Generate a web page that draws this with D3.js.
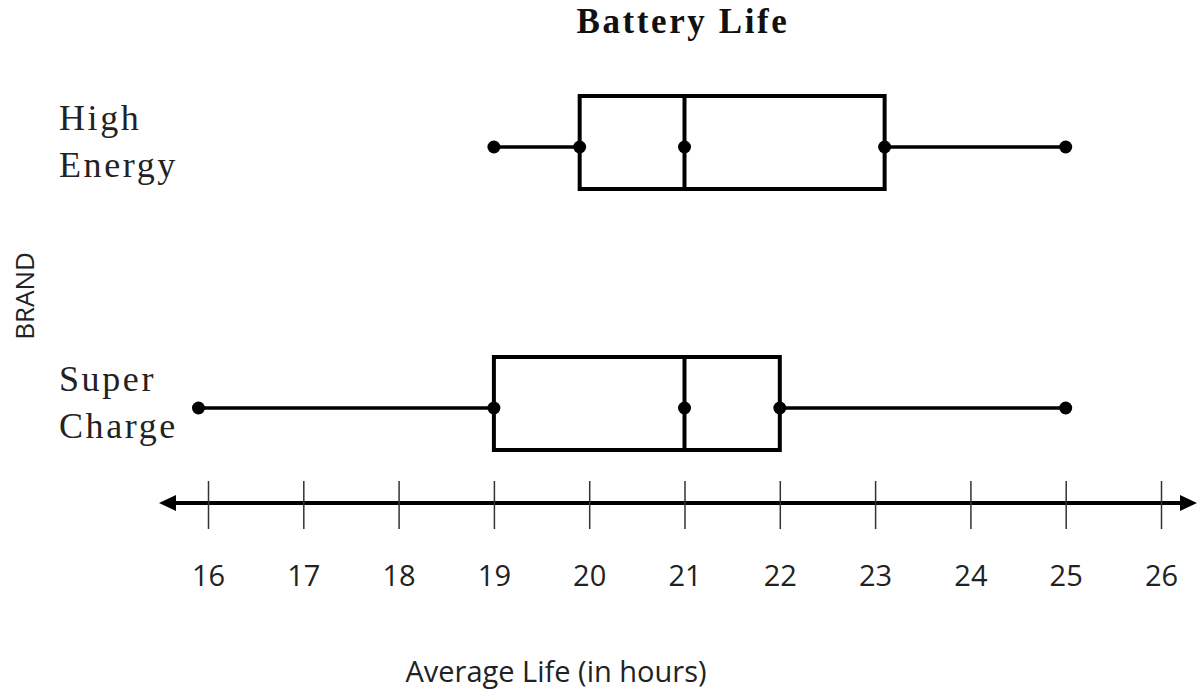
<!DOCTYPE html>
<html>
<head>
<meta charset="utf-8">
<script src="https://cdn.jsdelivr.net/npm/d3@7"></script>
<style>
  html, body { margin: 0; padding: 0; background: #fff; }
  svg { display: block; }
</style>
</head>
<body>
<svg id="chart" width="1197" height="690"></svg>
<script>
// ---- data ----
const categories = ["High Energy", "Super Charge"];
const labelLines = [["High", "Energy"], ["Super", "Charge"]];
const minValues    = [19,   15.9];
const q1Values     = [19.9, 19];
const medianValues = [21,   21];
const q3Values     = [23.1, 22];
const maxValues    = [25,   25];
const tickValues   = [16, 17, 18, 19, 20, 21, 22, 23, 24, 25, 26];
const titleText  = "Battery Life";
const xTitleText = "Average Life (in hours)";
const yTitleText = "BRAND";

// ---- layout ----
const W = 1197, H = 690;
const svg = d3.select("#chart");
const x = d3.scaleLinear().domain([16, 26]).range([208, 1161]);
const y = d3.scalePoint().domain(categories).range([147, 408]);
const boxTop = 51, boxBottom = 42;
const axisY = 503;
const ink = "#000";

const rows = categories.map((c, i) => ({
  cat: c, lines: labelLines[i],
  min: minValues[i], q1: q1Values[i], med: medianValues[i], q3: q3Values[i], max: maxValues[i]
}));

// title
svg.append("text")
  .attr("x", 683).attr("y", 33)
  .attr("text-anchor", "middle")
  .style("font-family", "'Liberation Serif', 'Times New Roman', serif")
  .style("font-weight", "bold")
  .style("font-size", "35px")
  .style("letter-spacing", "2.6px")
  .attr("fill", "#111")
  .text(titleText);

// y title
svg.append("text")
  .attr("transform", "translate(34,296) rotate(-90)")
  .attr("text-anchor", "middle")
  .style("font-family", "'Open Sans', sans-serif")
  .style("font-size", "26px")
  .attr("fill", "#222")
  .text(yTitleText);

// category labels
const lab = svg.append("g");
rows.forEach(r => {
  r.lines.forEach((t, j) => {
    lab.append("text")
      .attr("x", 59)
      .attr("y", y(r.cat) - 17 + j * 47)
      .style("font-family", "'Liberation Serif', 'Times New Roman', serif")
      .style("font-size", "36px")
      .style("letter-spacing", "2.6px")
      .attr("fill", "#222")
      .text(t);
  });
});

// boxes
const g = svg.append("g");
const box = g.selectAll("g.box").data(rows).join("g").attr("class", "box");

box.append("line")
  .attr("x1", d => x(d.min)).attr("x2", d => x(d.q1))
  .attr("y1", d => y(d.cat)).attr("y2", d => y(d.cat))
  .attr("stroke", ink).attr("stroke-width", 3.5);
box.append("line")
  .attr("x1", d => x(d.q3)).attr("x2", d => x(d.max))
  .attr("y1", d => y(d.cat)).attr("y2", d => y(d.cat))
  .attr("stroke", ink).attr("stroke-width", 3.5);
box.append("rect")
  .attr("x", d => x(d.q1)).attr("width", d => x(d.q3) - x(d.q1))
  .attr("y", d => y(d.cat) - boxTop).attr("height", boxTop + boxBottom)
  .attr("fill", "none").attr("stroke", ink).attr("stroke-width", 4);
box.append("line")
  .attr("x1", d => x(d.med)).attr("x2", d => x(d.med))
  .attr("y1", d => y(d.cat) - boxTop).attr("y2", d => y(d.cat) + boxBottom)
  .attr("stroke", ink).attr("stroke-width", 4);
box.selectAll("circle")
  .data(d => [d.min, d.q1, d.med, d.q3, d.max].map(v => ({v, cat: d.cat})))
  .join("circle")
  .attr("cx", d => x(d.v)).attr("cy", d => y(d.cat))
  .attr("r", 6.5).attr("fill", ink);

// axis line with arrows
svg.append("line")
  .attr("x1", 170).attr("x2", 1186)
  .attr("y1", axisY).attr("y2", axisY)
  .attr("stroke", ink).attr("stroke-width", 4);
svg.append("path")
  .attr("d", `M159,${axisY} L176,${axisY - 8} L176,${axisY + 8} Z`)
  .attr("fill", ink);
svg.append("path")
  .attr("d", `M1197,${axisY} L1180,${axisY - 8} L1180,${axisY + 8} Z`)
  .attr("fill", ink);

// ticks via axis
const axis = d3.axisBottom(x).tickValues(tickValues).tickSize(48).tickFormat(d3.format("d"));
const ax = svg.append("g").attr("transform", `translate(0,${axisY - 22})`).call(axis);
ax.select(".domain").remove();
ax.selectAll(".tick line").attr("stroke", "#333").attr("stroke-width", 1.5);
ax.selectAll(".tick text")
  .attr("dy", null)
  .attr("y", 105)
  .attr("fill", "#222")
  .style("font-family", "'Open Sans', sans-serif")
  .style("font-size", "29px");

// x title
svg.append("text")
  .attr("x", 556).attr("y", 682)
  .attr("text-anchor", "middle")
  .style("font-family", "'Open Sans', sans-serif")
  .style("font-size", "29px")
  .attr("fill", "#222")
  .text(xTitleText);
</script>
</body>
</html>
